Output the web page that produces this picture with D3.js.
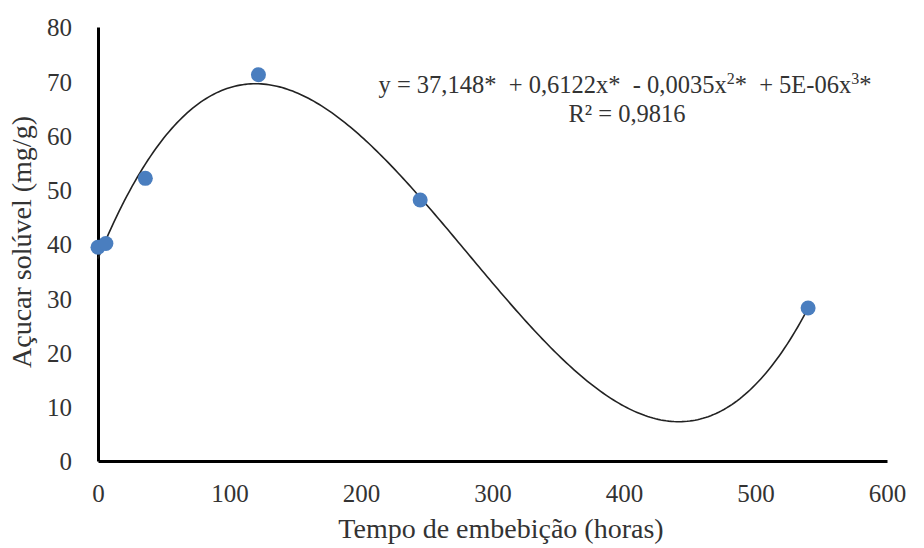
<!DOCTYPE html>
<meta charset="utf-8">
<head>
    <title>Açucar solúvel</title>
    <script src="https://cdn.jsdelivr.net/npm/d3@7"></script>
    <style>
        body { margin: 0; background: #fff; }
        svg text { font-family: "Liberation Serif", Tinos, "Times New Roman", serif !important; fill: #333; }
        .eq { white-space: pre; }
    </style>
</head>
<body>
<script>
    // data
    var horas = [0, 6, 36, 122, 245, 540];
    var acucar = [39.4, 40.1, 52.1, 71.2, 48.1, 28.2];
    var xTicks = [0, 100, 200, 300, 400, 500, 600];
    var yTicks = [0, 10, 20, 30, 40, 50, 60, 70, 80];

    var width = 924, height = 548;
    var x0 = 98, x1 = 887, y0 = 461, y1 = 27;

    var svg = d3.select('body').append('svg')
        .attr('width', width)
        .attr('height', height);

    var x = d3.scaleLinear().domain([0, 600]).range([x0, x1]);
    var y = d3.scaleLinear().domain([0, 80]).range([y0, y1]);

    // cubic least squares trend (like the spreadsheet trendline)
    function cubicFit(xs, ys) {
        var n = 4, A = [], b = [];
        for (var i = 0; i < n; i++) {
            A.push([0, 0, 0, 0]); b.push(0);
        }
        xs.forEach(function(xv, k) {
            var t = xv / 100;
            for (var i = 0; i < n; i++) {
                for (var j = 0; j < n; j++) A[i][j] += Math.pow(t, i + j);
                b[i] += ys[k] * Math.pow(t, i);
            }
        });
        for (var c = 0; c < n; c++) {
            var p = c;
            for (var r = c + 1; r < n; r++) if (Math.abs(A[r][c]) > Math.abs(A[p][c])) p = r;
            var tmp = A[c]; A[c] = A[p]; A[p] = tmp;
            var tb = b[c]; b[c] = b[p]; b[p] = tb;
            for (var r = c + 1; r < n; r++) {
                var f = A[r][c] / A[c][c];
                for (var j = c; j < n; j++) A[r][j] -= f * A[c][j];
                b[r] -= f * b[c];
            }
        }
        var coef = [0, 0, 0, 0];
        for (var r = n - 1; r >= 0; r--) {
            var s = b[r];
            for (var j = r + 1; j < n; j++) s -= A[r][j] * coef[j];
            coef[r] = s / A[r][r];
        }
        return function(xv) {
            var t = xv / 100;
            return coef[0] + coef[1] * t + coef[2] * t * t + coef[3] * t * t * t;
        };
    }
    var trend = cubicFit(horas, acucar);
    var curve = d3.range(0, d3.max(horas) + 1, 2).map(function(h) { return [h, trend(h)]; });

    // axes
    var xAxis = svg.append('g')
        .attr('transform', 'translate(0,' + y0 + ')')
        .call(d3.axisBottom(x).tickValues(xTicks).tickSize(0).tickPadding(23));
    var yAxis = svg.append('g')
        .attr('transform', 'translate(' + x0 + ',0)')
        .call(d3.axisLeft(y).tickValues(yTicks).tickSize(0).tickPadding(26));
    [xAxis, yAxis].forEach(function(g) {
        g.attr('font-family', null);
        g.select('.domain').attr('stroke', '#000').attr('stroke-width', 3);
        g.selectAll('text')
            .attr('font-size', 25)
            .attr('fill', '#333');
    });
    yAxis.selectAll('text').attr('dy', '0.35em');

    // trend line
    svg.append('path')
        .datum(curve)
        .attr('fill', 'none')
        .attr('stroke', '#222')
        .attr('stroke-width', 1.6)
        .attr('d', d3.line().x(function(d) { return x(d[0]); }).y(function(d) { return y(d[1]); }));

    // points
    svg.selectAll('.pt')
        .data(horas)
        .enter()
        .append('circle')
        .attr('class', 'pt')
        .attr('cx', function(d) { return x(d); })
        .attr('cy', function(d, i) { return y(acucar[i]); })
        .attr('r', 7.5)
        .attr('fill', '#4a7ebf');

    // equation
    var eq = svg.append('text')
        .attr('class', 'eq')
        .attr('x', 625)
        .attr('y', 93)
        .attr('text-anchor', 'middle')
        .attr('font-size', 24.5);
    eq.append('tspan').text('y = 37,148*  + 0,6122x*  - 0,0035x');
    eq.append('tspan').attr('font-size', 16).attr('dy', -9).text('2');
    eq.append('tspan').attr('dy', 9).text('*  + 5E-06x');
    eq.append('tspan').attr('font-size', 16).attr('dy', -9).text('3');
    eq.append('tspan').attr('dy', 9).text('*');

    svg.append('text')
        .attr('x', 627)
        .attr('y', 122)
        .attr('text-anchor', 'middle')
        .attr('font-size', 24.5)
        .text('R² = 0,9816');

    // axis titles
    svg.append('text')
        .attr('x', 501)
        .attr('y', 538)
        .attr('text-anchor', 'middle')
        .attr('font-size', 28)
        .text('Tempo de embebição (horas)');

    svg.append('text')
        .attr('transform', 'translate(31,242) rotate(-90)')
        .attr('text-anchor', 'middle')
        .attr('font-size', 28)
        .text('Açucar solúvel (mg/g)');
</script>
</body>
</html>
